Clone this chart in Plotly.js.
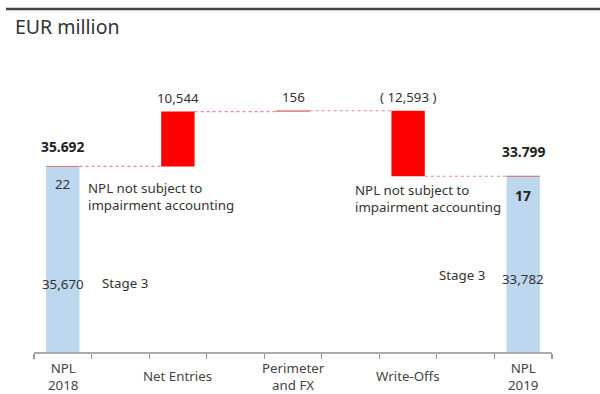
<!DOCTYPE html>
<html>
<head>
<meta charset="utf-8">
<script src="https://cdn.plot.ly/plotly-3.0.1.min.js"></script>
<style>html,body{margin:0;padding:0;background:#fff;}#chart{width:600px;height:394px;}</style>
</head>
<body>
<div id="chart"></div>
<script>
// ---- data ----
const categories = ['NPL<br>2018', 'Net Entries', 'Perimeter<br>and FX', 'Write-Offs', 'NPL<br>2019'];
const stage3 = [35670, 33782];          // NPL 2018, NPL 2019
const notSubject = [22, 17];            // NPL not subject to impairment accounting
const changes = [10544, 156, -12593];   // Net Entries, Perimeter and FX, Write-Offs
const totalLabels = ['35.692', '33.799'];
const changeLabels = ['10,544', '156', '( 12,593 )'];
const stage3Labels = ['35,670', '33,782'];
const notSubjectLabels = ['22', '17'];

// ---- layout helpers ----
const xPos = [0.5, 2.5, 4.5, 6.5, 8.5];
const barW = 0.58;
const totalX = [xPos[0], xPos[4]];
const changeX = xPos.slice(1, 4);

const start = stage3[0] + notSubject[0];
const bases = [];
let run = start;
changes.forEach(c => { bases.push(run); run += c; });
const end = run;
const levels = [start].concat(changes.map((c, i) => bases[i] + c));

// connectors
const cx = [], cy = [];
for (let i = 0; i < 4; i++) {
  cx.push(xPos[i] + barW / 2, xPos[i + 1] - barW / 2, null);
  cy.push(levels[i], levels[i], null);
}

const red = '#ff0000';
const blue = '#bdd7ee';
const font = 'Noto Sans, Open Sans, sans-serif';
const fs = 13.3;

const traces = [
  { type: 'bar', x: totalX, y: stage3, base: [0, 0], width: barW,
    marker: { color: blue, line: { width: 0 } }, hoverinfo: 'skip' },
  { type: 'bar', x: totalX, y: notSubject, base: stage3, width: barW,
    marker: { color: '#e05a5a', line: { color: '#e05a5a', width: 0.6 } }, hoverinfo: 'skip' },
  { type: 'bar', x: changeX, y: changes, base: bases, width: barW,
    marker: { color: [red, '#e88a8a', red], line: { color: [red, '#e88a8a', red], width: [0, 1, 0] } }, hoverinfo: 'skip' },
  { type: 'scatter', mode: 'lines', x: cx, y: cy,
    line: { color: '#e08a8a', width: 1.2, dash: 'dot' }, hoverinfo: 'skip' }
];

const ann = [];
function a(o) { ann.push(Object.assign({ showarrow: false, font: { family: font, size: fs, color: '#333' } }, o)); }
const boldFont = { family: font, size: fs + 0.5, color: '#222' };

// totals above bars
a({ x: totalX[0], y: start, yanchor: 'bottom', yshift: 8, text: '<b>' + totalLabels[0] + '</b>', font: boldFont });
a({ x: totalX[1], y: end, yanchor: 'bottom', yshift: 13, text: '<b>' + totalLabels[1] + '</b>', font: boldFont });
// change labels
const changeTops = changes.map((c, i) => Math.max(bases[i], bases[i] + c));
changeLabels.forEach((t, i) => a({ x: changeX[i], y: changeTops[i], yanchor: 'bottom', yshift: 3, text: t }));
// inside labels
a({ x: totalX[0], y: start, yanchor: 'top', yshift: -7, text: notSubjectLabels[0] });
a({ x: totalX[1], y: end, yanchor: 'top', yshift: -8, text: '<b>' + notSubjectLabels[1] + '</b>', font: boldFont });
a({ x: totalX[0], y: 13100, text: stage3Labels[0] });
a({ x: totalX[1], y: 14000, text: stage3Labels[1] });
// side notes
a({ x: 0.9, y: 33700, xanchor: 'left', yanchor: 'top', align: 'left', text: 'NPL not subject to<br>impairment accounting' });
a({ x: 5.55, y: 33300, xanchor: 'left', yanchor: 'top', align: 'left', text: 'NPL not subject to<br>impairment accounting' });
a({ x: 1.15, y: 13200, xanchor: 'left', text: 'Stage 3' });
a({ x: 7.0, y: 14800, xanchor: 'left', text: 'Stage 3' });
// category labels
categories.forEach((c, i) => a({ x: xPos[i], xref: 'x', y: 0, yref: 'paper', yanchor: 'middle', yshift: -24, text: c, font: { family: font, size: fs, color: '#444' } }));
// unit
a({ x: -0.0405, xref: 'paper', y: 1.116, yref: 'paper', xanchor: 'left', yanchor: 'middle', text: 'EUR million', font: { family: font, size: 19.5, color: '#333' } });

const layout = {
  width: 600, height: 394,
  margin: { l: 34, r: 48, t: 60, b: 42 },
  paper_bgcolor: '#fff', plot_bgcolor: '#fff',
  showlegend: false,
  barmode: 'overlay',
  xaxis: { range: [0, 9], tickvals: [0,1,2,3,4,5,6,7,8,9], ticktext: ['','','','','','','','','',''],
    ticks: 'outside', ticklen: 5, tickcolor: '#999', tickwidth: 1.2,
    showline: true, linecolor: '#aaa', linewidth: 1.5, showgrid: false, zeroline: false, fixedrange: true },
  yaxis: { range: [0, 56150], visible: false, showgrid: false, zeroline: false, fixedrange: true },
  shapes: [{ type: 'line', xref: 'paper', yref: 'paper', x0: -0.054, x1: 1.093, y0: 1.1747, y1: 1.1747,
    line: { color: '#444', width: 2.5 } }],
  annotations: ann
};

Plotly.newPlot('chart', traces, layout, { displayModeBar: false, staticPlot: true });
</script>
</body>
</html>
